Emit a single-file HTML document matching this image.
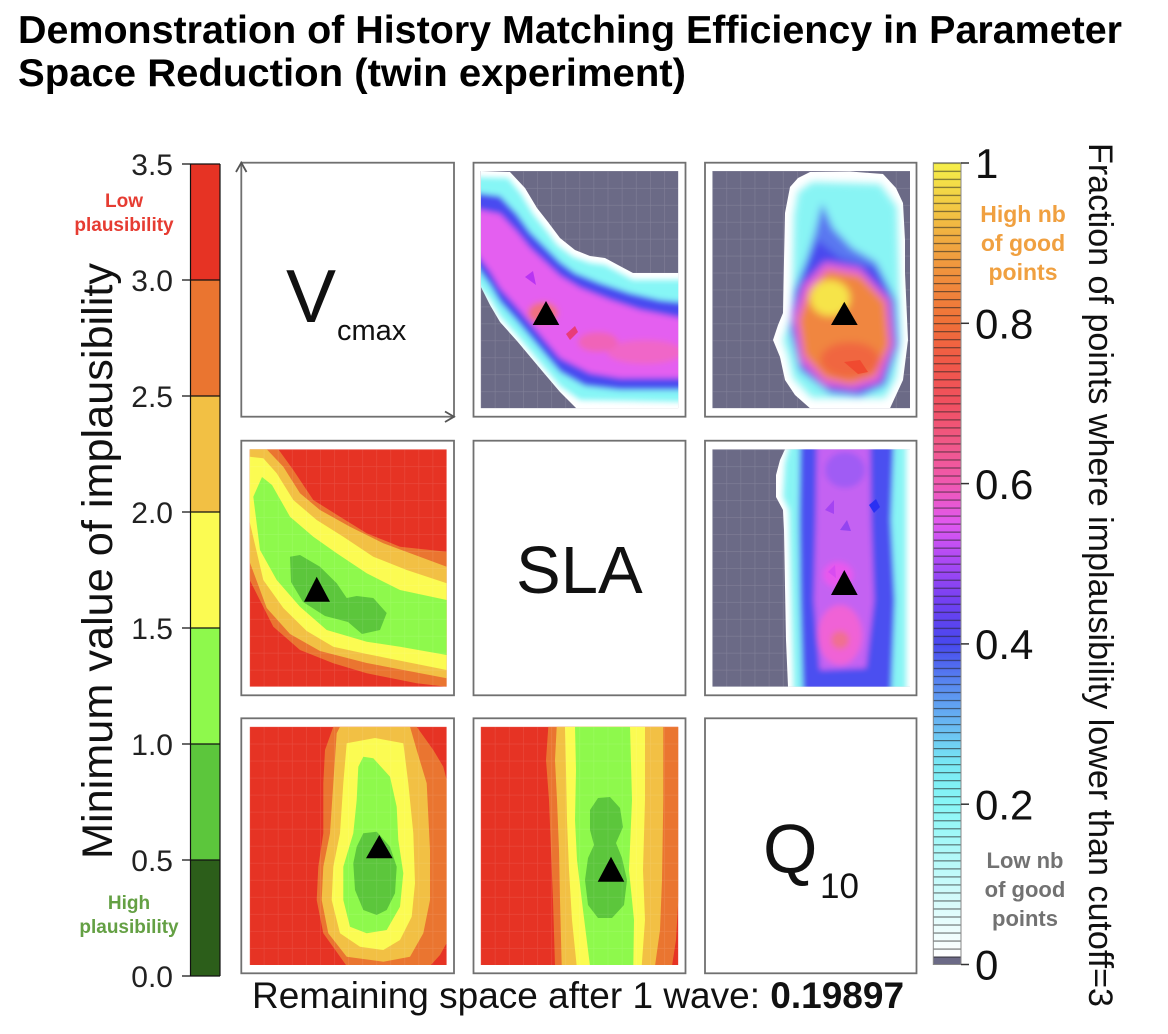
<!DOCTYPE html>
<html>
<head>
<meta charset="utf-8">
<style>
html,body{margin:0;padding:0;background:#fff;}
svg{display:block;}
text{font-family:"Liberation Sans",Arial,sans-serif;}
</style>
</head>
<body>
<svg width="1168" height="1034" viewBox="0 0 1168 1034" xmlns="http://www.w3.org/2000/svg">
<defs>
  <linearGradient id="cmap" x1="0" y1="1" x2="0" y2="0">
    <stop offset="0" stop-color="#6b6a86"/>
    <stop offset="0.0099" stop-color="#6b6a86"/>
    <stop offset="0.0101" stop-color="#ffffff"/>
    <stop offset="0.05" stop-color="#e8fcfc"/>
    <stop offset="0.1" stop-color="#c8fafa"/>
    <stop offset="0.15" stop-color="#a8f8f8"/>
    <stop offset="0.2" stop-color="#88f6f6"/>
    <stop offset="0.25" stop-color="#78e8f4"/>
    <stop offset="0.3" stop-color="#68b8f2"/>
    <stop offset="0.35" stop-color="#5888f0"/>
    <stop offset="0.4" stop-color="#4848ee"/>
    <stop offset="0.45" stop-color="#7040f2"/>
    <stop offset="0.5" stop-color="#a848f4"/>
    <stop offset="0.55" stop-color="#e058f0"/>
    <stop offset="0.6" stop-color="#f058b0"/>
    <stop offset="0.65" stop-color="#f05888"/>
    <stop offset="0.7" stop-color="#f05060"/>
    <stop offset="0.75" stop-color="#f05848"/>
    <stop offset="0.8" stop-color="#f07038"/>
    <stop offset="0.85" stop-color="#f08a3c"/>
    <stop offset="0.9" stop-color="#f0a840"/>
    <stop offset="0.95" stop-color="#f2cc44"/>
    <stop offset="1" stop-color="#f6f04a"/>
  </linearGradient>
  <pattern id="stripes" patternUnits="userSpaceOnUse" x="933" y="162.7" width="28" height="8.018">
    <rect x="0" y="0" width="28" height="1.2" fill="#222" fill-opacity="0.6"/>
  </pattern>
  <filter id="blur" x="-20%" y="-20%" width="140%" height="140%">
    <feGaussianBlur stdDeviation="4"/>
  </filter>
  <filter id="blur3" x="-20%" y="-20%" width="140%" height="140%">
    <feGaussianBlur stdDeviation="3"/>
  </filter>
  <!-- grid patterns -->
  <pattern id="gD" patternUnits="userSpaceOnUse" x="480.7" y="171" width="14.11" height="16.95">
    <path d="M0,0 V16.95 M0,0 H14.11" stroke="#ffffff" stroke-opacity="0.14" stroke-width="1.2" fill="none"/>
  </pattern>
  <pattern id="gE" patternUnits="userSpaceOnUse" x="712.3" y="171" width="14.12" height="16.95">
    <path d="M0,0 V16.95 M0,0 H14.12" stroke="#ffffff" stroke-opacity="0.14" stroke-width="1.2" fill="none"/>
  </pattern>
  <pattern id="gF" patternUnits="userSpaceOnUse" x="712.3" y="449.3" width="14.12" height="16.96">
    <path d="M0,0 V16.96 M0,0 H14.12" stroke="#ffffff" stroke-opacity="0.14" stroke-width="1.2" fill="none"/>
  </pattern>
  <pattern id="gA" patternUnits="userSpaceOnUse" x="249.7" y="449.3" width="14.07" height="16.96">
    <path d="M0,0 V16.96 M0,0 H14.07" stroke="#ffffff" stroke-opacity="0.12" stroke-width="1.2" fill="none"/>
  </pattern>
  <pattern id="gB" patternUnits="userSpaceOnUse" x="249.7" y="726.7" width="14.07" height="17.02">
    <path d="M0,0 V17.02 M0,0 H14.07" stroke="#ffffff" stroke-opacity="0.12" stroke-width="1.2" fill="none"/>
  </pattern>
  <pattern id="gC" patternUnits="userSpaceOnUse" x="480.7" y="726.7" width="14.11" height="17.02">
    <path d="M0,0 V17.02 M0,0 H14.11" stroke="#ffffff" stroke-opacity="0.12" stroke-width="1.2" fill="none"/>
  </pattern>

  <clipPath id="clipD"><rect x="480.7" y="171" width="197.6" height="237.3"/></clipPath>
  <clipPath id="clipE"><rect x="712.3" y="171" width="197.7" height="237.3"/></clipPath>
  <clipPath id="clipF"><rect x="712.3" y="449.3" width="197.7" height="237.4"/></clipPath>
  <clipPath id="clipA"><rect x="249.7" y="449.3" width="197" height="237.4"/></clipPath>
  <clipPath id="clipB"><rect x="249.7" y="726.7" width="197" height="238.3"/></clipPath>
  <clipPath id="clipC"><rect x="480.7" y="726.7" width="197.6" height="238.3"/></clipPath>

  <clipPath id="wD"><path d="M481,171 L510,172 L525,188 L537,208 L548,222 L560,238 L575,250 L590,256 L605,258 L618,265 L633,273 L679,273 L679,409 L577,409 L560,392 L543,372 L517,341 L500,322 L490,305 L481,287 Z"/></clipPath>
  <clipPath id="wE"><path d="M810,172 L850,171.5 L883,174 L896,188 L903,203 L905,240 L905,273 L908,340 L903,380 L890,408.3 L810,408.3 L795,395 L785,380 L780,357 L773,340 L778,325 L783,313 L784,260 L785,213 L790,187 L798,178 Z"/></clipPath>
  <clipPath id="wF"><path d="M785,449.3 L910,449.3 L910,686.7 L788,686.7 L786,640 L785,587 L784,530 L783,510 L776,497 L776,475 L780,460 Z"/></clipPath>
</defs>

<!-- Title -->
<text x="18" y="43" font-size="38.5" font-weight="bold" fill="#000" textLength="1104" lengthAdjust="spacingAndGlyphs">Demonstration of History Matching Efficiency in Parameter</text>
<text x="18" y="86" font-size="38.5" font-weight="bold" fill="#000" textLength="668" lengthAdjust="spacingAndGlyphs">Space Reduction (twin experiment)</text>

<!-- Left colorbar -->
<rect x="190.5" y="164" width="29.5" height="116" fill="#e63324"/>
<rect x="190.5" y="280" width="29.5" height="116" fill="#ea7530"/>
<rect x="190.5" y="396" width="29.5" height="116" fill="#f2c044"/>
<rect x="190.5" y="512" width="29.5" height="116" fill="#fbfb52"/>
<rect x="190.5" y="628" width="29.5" height="116" fill="#8ef94c"/>
<rect x="190.5" y="744" width="29.5" height="116" fill="#5cc63c"/>
<rect x="190.5" y="860" width="29.5" height="116" fill="#2c5e1a"/>
<g stroke="#111" stroke-width="1.2">
  <line x1="190.5" y1="164" x2="190.5" y2="976"/>
  <line x1="220" y1="164" x2="220" y2="976"/>
  <line x1="182" y1="164" x2="220" y2="164"/>
  <line x1="182" y1="280" x2="220" y2="280"/>
  <line x1="182" y1="396" x2="220" y2="396"/>
  <line x1="182" y1="512" x2="220" y2="512"/>
  <line x1="182" y1="628" x2="220" y2="628"/>
  <line x1="182" y1="744" x2="220" y2="744"/>
  <line x1="182" y1="860" x2="220" y2="860"/>
  <line x1="182" y1="976" x2="220" y2="976"/>
</g>
<g font-size="30" fill="#222" text-anchor="end">
  <text x="173" y="175">3.5</text>
  <text x="173" y="291">3.0</text>
  <text x="173" y="407">2.5</text>
  <text x="173" y="523">2.0</text>
  <text x="173" y="639">1.5</text>
  <text x="173" y="755">1.0</text>
  <text x="173" y="871">0.5</text>
  <text x="173" y="987">0.0</text>
</g>
<g font-size="19" font-weight="bold" fill="#e63c32" text-anchor="middle">
  <text x="124" y="207">Low</text>
  <text x="124" y="231">plausibility</text>
</g>
<g font-size="19" font-weight="bold" fill="#64a044" text-anchor="middle">
  <text x="129" y="909">High</text>
  <text x="129" y="933">plausibility</text>
</g>
<text transform="translate(112,561) rotate(-90)" x="0" y="0" font-size="43" fill="#111" text-anchor="middle" textLength="596" lengthAdjust="spacingAndGlyphs">Minimum value of implausibility</text>

<!-- ============ Panel frames ============ -->
<g fill="none" stroke="#707070" stroke-width="1.8">
  <rect x="241.3" y="162.7" width="212.7" height="254"/>
  <rect x="473.5" y="162.7" width="212" height="254"/>
  <rect x="705" y="162.7" width="211.5" height="254"/>
  <rect x="241.3" y="440.7" width="212.7" height="254.6"/>
  <rect x="473.5" y="440.7" width="212" height="254.6"/>
  <rect x="705" y="440.7" width="211.5" height="254.6"/>
  <rect x="241.3" y="718.3" width="212.7" height="255"/>
  <rect x="473.5" y="718.3" width="212" height="255"/>
  <rect x="705" y="718.3" width="211.5" height="255"/>
</g>
<!-- arrows panel 1,1 -->
<g fill="none" stroke="#555" stroke-width="1.8">
  <path d="M236,172 L241.3,162.7 L246.5,172"/>
  <path d="M445,411.5 L454,416.7 L445,422"/>
</g>
<text x="286" y="322" font-size="75" fill="#111">V</text>
<text x="337" y="340" font-size="29" fill="#111">cmax</text>
<text x="516" y="593" font-size="67" fill="#111">SLA</text>
<text x="763" y="873" font-size="70" fill="#111">Q</text>
<text x="820" y="898" font-size="35" fill="#111">10</text>

<!-- ============ Panel (1,2) gradient band ============ -->
<g clip-path="url(#clipD)">
  <rect x="480.7" y="171" width="197.6" height="237.3" fill="#6b6a86"/>
  <rect x="480.7" y="171" width="197.6" height="237.3" fill="url(#gD)"/>
  <path d="M481,171 L510,172 L525,188 L537,208 L548,222 L560,238 L575,250 L590,256 L605,258 L618,265 L633,273 L679,273 L679,409 L577,409 L560,392 L543,372 L517,341 L500,322 L490,305 L481,287 Z" fill="#ffffff"/>
  <g clip-path="url(#wD)">
    <g filter="url(#blur3)">
      <path d="M470,177 L508,178 L521,194 L533,214 L545,229 L557,245 L573,257 L590,263 L605,265 L618,272 L633,280 L690,280 L690,402 L580,400 L560,386 L543,366 L517,335 L500,316 L490,299 L470,275 Z" fill="#86f6f6"/>
      <path d="M470,192 L500,196 L517,214 L530,232 L545,247 L560,262 L575,273 L600,283 L630,293 L660,300 L690,303 L690,390 L620,390 L585,386 L560,372 L543,352 L517,321 L500,302 L490,285 L470,258 Z" fill="#4a4cf0"/>
      <path d="M470,208 L500,214 L517,232 L530,248 L545,262 L560,276 L580,288 L610,300 L640,310 L690,320 L690,378 L620,378 L590,373 L560,358 L543,338 L517,307 L500,288 L490,271 L470,245 Z" fill="#e45ef0"/>
      <ellipse cx="543" cy="313" rx="15" ry="11" fill="#f07080"/>
      <ellipse cx="645" cy="352" rx="38" ry="12" fill="#f066c8"/>
      <ellipse cx="598" cy="342" rx="20" ry="10" fill="#f064b8"/>
    </g>
    <path d="M525,277 L533,271 L536,285 Z" fill="#b834f2"/>
    <path d="M566,334 L575,326 L578,332 L570,340 Z" fill="#e83c78"/>
  </g>
  <path d="M546,301 L532.7,325 L559.3,325 Z" fill="#000"/>
</g>

<!-- ============ Panel (1,3) blob ============ -->
<g clip-path="url(#clipE)">
  <rect x="712.3" y="171" width="197.7" height="237.3" fill="#6b6a86"/>
  <rect x="712.3" y="171" width="197.7" height="237.3" fill="url(#gE)"/>
  <path d="M810,172 L850,171.5 L883,174 L896,188 L903,203 L905,240 L905,273 L908,340 L903,380 L890,408.3 L810,408.3 L795,395 L785,380 L780,357 L773,340 L778,325 L783,313 L784,260 L785,213 L790,187 L798,178 Z" fill="#ffffff"/>
  <g clip-path="url(#wE)">
    <g filter="url(#blur)">
      <path d="M812,182 L880,184 L897,207 L899,275 L901,340 L896,378 L885,398 L812,398 L793,378 L788,355 L783,340 L792,313 L794,215 L798,192 Z" fill="#88f4f4"/>
      <path d="M822,203 L833,228 L852,248 L876,262 L895,300 L898,345 L885,385 L860,396 L830,393 L800,370 L790,330 L795,290 L806,262 L815,232 Z" fill="#5a78f0"/>
      <path d="M818,240 L840,258 L876,268 L895,300 L898,345 L885,385 L860,396 L830,393 L800,370 L790,330 L795,290 L806,262 Z" fill="#4848ee"/>
      <path d="M825,262 L860,268 L890,300 L894,345 L880,382 L855,390 L825,386 L800,362 L793,320 L803,285 Z" fill="#e260d8"/>
      <path d="M828,270 L860,276 L885,302 L889,345 L875,376 L850,384 L825,378 L804,355 L799,320 L809,290 Z" fill="#f08640"/>
      <ellipse cx="850" cy="360" rx="30" ry="18" fill="#f06640"/>
      <ellipse cx="830" cy="298" rx="20" ry="18" fill="#f6e44a"/>
    </g>
    <path d="M844,362 L860,360 L868,372 L858,374 Z" fill="#f04a30"/>
  </g>
  <path d="M844.3,301.7 L831,325 L857.7,325 Z" fill="#000"/>
</g>

<!-- ============ Panel (2,3) vertical band ============ -->
<g clip-path="url(#clipF)">
  <rect x="712.3" y="449.3" width="197.7" height="237.4" fill="#6b6a86"/>
  <rect x="712.3" y="449.3" width="197.7" height="237.4" fill="url(#gF)"/>
  <path d="M785,449.3 L910,449.3 L910,686.7 L788,686.7 L786,640 L785,587 L784,530 L783,510 L776,497 L776,475 L780,460 Z" fill="#ffffff"/>
  <g clip-path="url(#wF)">
    <g filter="url(#blur3)">
      <path d="M791,440 L906,440 L906,700 L794,700 L791,587 L789,510 L783,497 L785,463 Z" fill="#88f4f4"/>
      <path d="M800,440 L894,440 L891,520 L895,600 L891,700 L803,700 L800,600 L799,520 Z" fill="#4c50f0"/>
      <path d="M817,440 L870,440 L871,520 L874,600 L866,668 L820,670 L814,600 L816,520 Z" fill="#c462f2"/>
      <ellipse cx="845" cy="470" rx="20" ry="18" fill="#a05cf4"/>
      <ellipse cx="840" cy="635" rx="22" ry="30" fill="#f062d6"/>
      <ellipse cx="840" cy="640" rx="9" ry="9" fill="#f07090"/>
      <ellipse cx="838" cy="575" rx="15" ry="13" fill="#e858ee"/>
    </g>
    <path d="M869,505 L876,499 L880,507 L874,513 Z" fill="#2a30f2"/>
    <path d="M825,510 L834,500 L834,514 Z" fill="#a444f2"/>
    <path d="M840,530 L847,520 L851,531 Z" fill="#9444f0"/>
    <path d="M828,572 L835,565 L836,578 Z" fill="#d84cf0"/>
  </g>
  <path d="M844.3,570 L831,595 L857.7,595 Z" fill="#000"/>
</g>

<!-- ============ Panel (2,1) contour band ============ -->
<g clip-path="url(#clipA)">
  <rect x="249.7" y="449.3" width="197" height="237.4" fill="#e63324"/>
  <path d="M249.7,449.3 L278.3,449.3 L293.3,470 L313.3,500 L340,516.7 L366.7,533.3 L400,546.7 L446.7,551.7 L446.7,686.7 L416.7,683.3 L366.7,673.3 L333.3,663.3 L300,650 L273.3,626.7 L249.7,580 Z" fill="#ea7530"/>
  <path d="M249.7,449.3 L266.7,449.3 L283.3,466.7 L300,493.3 L320,510 L350,526.7 L383.3,543.3 L446.7,566.7 L446.7,678.3 L366.7,663 L320,651 L290,634 L266.7,608 L249.7,562 Z" fill="#f2c044"/>
  <path d="M249.7,456.7 L263.3,458.3 L276.7,473.3 L293.3,500 L316.7,520 L343.3,536.7 L373.3,556.7 L406.7,570 L446.7,583.3 L446.7,670 L366.7,654 L333.3,646.7 L306.7,631 L283.3,608 L263.3,580 L249.7,522 Z" fill="#fbfb52"/>
  <path d="M262,477 L272,485 L290,516.7 L313.3,536.7 L336.7,553.3 L366.7,573.3 L400,590 L446.7,600 L446.7,655 L400,646.7 L366.7,641.7 L326.7,630 L300,606.7 L276.7,580 L260,550 L253.3,496.7 Z" fill="#8ef94c"/>
  <path d="M290,556.7 L300,555 L320,566.7 L336.7,583.3 L346.7,598 L356.7,596 L373.3,598 L386.7,613 L380,630 L362,634 L348,622 L325,616 L303,602 L291,582 Z" fill="#5cc63c"/>
  <rect x="249.7" y="449.3" width="197" height="237.4" fill="url(#gA)"/>
  <path d="M316.7,576.7 L304,601.7 L330,601.7 Z" fill="#000"/>
</g>

<!-- ============ Panel (3,1) contour blob ============ -->
<g clip-path="url(#clipB)">
  <rect x="249.7" y="726.7" width="197" height="238.3" fill="#e63324"/>
  <path d="M333.3,726.7 L325,750 L323.3,783.3 L323.3,833.3 L318.3,866.7 L316.7,900 L323.3,933.3 L346.7,966 L430,966 L440,955 L446.7,943 L446.7,780 L443.3,766.7 L433.3,750 L416.7,726.7 Z" fill="#ea7530"/>
  <path d="M340,726.7 L336.7,733.3 L333.3,783.3 L330,833.3 L323.3,866.7 L321.7,900 L328.3,933.3 L346.7,956.7 L383.3,961.7 L410,956.7 L423.3,933.3 L430,900 L430,850 L426.7,783.3 L416.7,750 L410,726.7 Z" fill="#f2c044"/>
  <path d="M346.7,743.3 L343.3,783.3 L340,833.3 L333.3,866.7 L331.7,900 L340,933.3 L360,946.7 L383.3,950 L400,940 L411.7,916.7 L415,883.3 L413.3,833.3 L408.3,783.3 L403.3,743.3 L375,738 Z" fill="#fbfb52"/>
  <path d="M363.3,756.7 L373.3,758.3 L390,776.7 L396.7,806.7 L398.3,840 L403.3,873.3 L400,906.7 L386.7,930 L366.7,933.3 L350,926.7 L343.3,900 L343.3,866.7 L353.3,833.3 L356.7,800 L358.3,766.7 Z" fill="#8ef94c"/>
  <path d="M363.3,833.3 L376.7,831.7 L390,846.7 L396.7,866.7 L395,893.3 L386.7,910 L376.7,915 L363.3,910 L355,890 L353.3,863.3 L356.7,846.7 Z" fill="#5cc63c"/>
  <rect x="249.7" y="726.7" width="197" height="238.3" fill="url(#gB)"/>
  <path d="M379.3,835 L366,858.3 L392.7,858.3 Z" fill="#000"/>
</g>

<!-- ============ Panel (3,2) vertical contour band ============ -->
<g clip-path="url(#clipC)">
  <rect x="480.7" y="726.7" width="197.6" height="238.3" fill="#e63324"/>
  <path d="M548.3,726.7 L546,760 L549,800 L551,850 L553,900 L555,966 L672,966 L676,940 L678.3,900 L678.3,726.7 Z" fill="#ea7530"/>
  <path d="M556.7,726.7 L555,760 L557,800 L559,850 L560,900 L561.7,966 L655,966 L660,930 L662,880 L663.3,800 L663.3,726.7 Z" fill="#f2c044"/>
  <path d="M565,726.7 L566,770 L567,820 L569,870 L572,920 L576.7,966 L641.7,966 L645,920 L643,870 L645,800 L645,726.7 Z" fill="#fbfb52"/>
  <path d="M575,726.7 L576,770 L575,820 L577,860 L583,910 L590,966 L633.3,966 L634,920 L629,870 L632,800 L630,726.7 Z" fill="#8ef94c"/>
  <path d="M598,798 L610,797 L620,808 L623,827 L616,843 L622,858 L627,880 L624,905 L612,918 L598,918 L588,905 L585,880 L588,858 L594,845 L590,830 L590,810 Z" fill="#5cc63c"/>
  <rect x="480.7" y="726.7" width="197.6" height="238.3" fill="url(#gC)"/>
  <path d="M611,856.7 L597.7,881.7 L624.3,881.7 Z" fill="#000"/>
</g>

<!-- ============ Right colorbar ============ -->
<rect x="933.3" y="162.7" width="27.7" height="801.8" fill="url(#cmap)"/>
<rect x="933.3" y="162.7" width="27.7" height="801.8" fill="url(#stripes)"/>
<rect x="933.3" y="162.7" width="27.7" height="801.8" fill="none" stroke="#888" stroke-width="1"/>
<g stroke="#333" stroke-width="1.5">
  <line x1="961" y1="163" x2="969" y2="163"/>
  <line x1="961" y1="323.3" x2="969" y2="323.3"/>
  <line x1="961" y1="483.6" x2="969" y2="483.6"/>
  <line x1="961" y1="643.9" x2="969" y2="643.9"/>
  <line x1="961" y1="804.2" x2="969" y2="804.2"/>
  <line x1="961" y1="964.5" x2="969" y2="964.5"/>
</g>
<g font-size="42" fill="#111">
  <text x="975" y="178">1</text>
  <text x="975" y="338.5">0.8</text>
  <text x="975" y="498.8">0.6</text>
  <text x="975" y="659">0.4</text>
  <text x="975" y="819.3">0.2</text>
  <text x="975" y="979.6">0</text>
</g>
<g font-size="23" font-weight="bold" fill="#f0a040" text-anchor="middle">
  <text x="1023" y="222">High nb</text>
  <text x="1023" y="251">of good</text>
  <text x="1023" y="280">points</text>
</g>
<g font-size="22" font-weight="bold" fill="#727272" text-anchor="middle">
  <text x="1025" y="868">Low nb</text>
  <text x="1025" y="897">of good</text>
  <text x="1025" y="926">points</text>
</g>
<text transform="translate(1089,143) rotate(90)" x="0" y="0" font-size="34" fill="#111" textLength="864" lengthAdjust="spacingAndGlyphs">Fraction of points where implausibility lower than cutoff=3</text>

<!-- Bottom text -->
<text x="252" y="1008" font-size="37" fill="#111">Remaining space after 1 wave: <tspan font-weight="bold">0.19897</tspan></text>
</svg>
</body>
</html>
